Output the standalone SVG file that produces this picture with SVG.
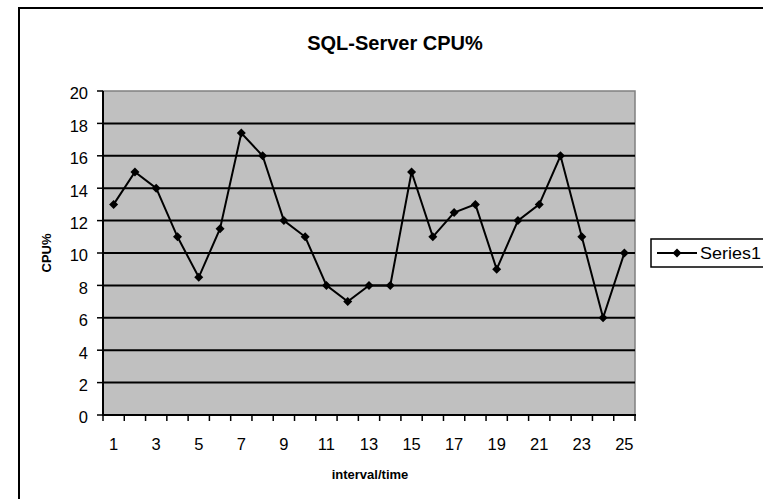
<svg xmlns="http://www.w3.org/2000/svg" width="763" height="499" viewBox="0 0 763 499">
<style>
text{font-family:"Liberation Sans",Arial,sans-serif;fill:#000}
.t{font-size:16.5px}
.a{font-size:13px;font-weight:bold}
.grid{stroke:#000;stroke-width:2}
.tick{stroke:#000;stroke-width:1.5}
</style>
<defs>
<path id="dm" d="M0,-4.5 L4.5,0 L0,4.5 L-4.5,0 Z" fill="#000"/>
</defs>
<rect width="763" height="499" fill="#fff"/>
<rect x="19" y="8" width="760" height="510" fill="none" stroke="#000" stroke-width="2"/>
<text x="395" y="50" text-anchor="middle" font-size="20" font-weight="bold">SQL-Server CPU%</text>
<g id="plot">
<rect x="103" y="91" width="532" height="324" fill="#c0c0c0" stroke="#808080" stroke-width="1.5"/>
<g class="grid">
<line x1="103" y1="382.6" x2="635" y2="382.6"/>
<line x1="103" y1="350.2" x2="635" y2="350.2"/>
<line x1="103" y1="317.8" x2="635" y2="317.8"/>
<line x1="103" y1="285.4" x2="635" y2="285.4"/>
<line x1="103" y1="253" x2="635" y2="253"/>
<line x1="103" y1="220.6" x2="635" y2="220.6"/>
<line x1="103" y1="188.2" x2="635" y2="188.2"/>
<line x1="103" y1="155.8" x2="635" y2="155.8"/>
<line x1="103" y1="123.4" x2="635" y2="123.4"/>
</g>
</g>
<g id="axes">
<line x1="103" y1="91" x2="103" y2="416" stroke="#000" stroke-width="2"/>
<line x1="102" y1="415" x2="636" y2="415" stroke="#000" stroke-width="2"/>
<g class="tick">
<line x1="97" y1="415" x2="103" y2="415"/><line x1="97" y1="382.6" x2="103" y2="382.6"/><line x1="97" y1="350.2" x2="103" y2="350.2"/><line x1="97" y1="317.8" x2="103" y2="317.8"/><line x1="97" y1="285.4" x2="103" y2="285.4"/><line x1="97" y1="253" x2="103" y2="253"/><line x1="97" y1="220.6" x2="103" y2="220.6"/><line x1="97" y1="188.2" x2="103" y2="188.2"/><line x1="97" y1="155.8" x2="103" y2="155.8"/><line x1="97" y1="123.4" x2="103" y2="123.4"/><line x1="97" y1="91" x2="103" y2="91"/>
<line x1="103" y1="415" x2="103" y2="421"/><line x1="124.28" y1="415" x2="124.28" y2="421"/><line x1="145.56" y1="415" x2="145.56" y2="421"/><line x1="166.84" y1="415" x2="166.84" y2="421"/><line x1="188.12" y1="415" x2="188.12" y2="421"/><line x1="209.4" y1="415" x2="209.4" y2="421"/><line x1="230.68" y1="415" x2="230.68" y2="421"/><line x1="251.96" y1="415" x2="251.96" y2="421"/><line x1="273.24" y1="415" x2="273.24" y2="421"/><line x1="294.52" y1="415" x2="294.52" y2="421"/><line x1="315.8" y1="415" x2="315.8" y2="421"/><line x1="337.08" y1="415" x2="337.08" y2="421"/><line x1="358.36" y1="415" x2="358.36" y2="421"/><line x1="379.64" y1="415" x2="379.64" y2="421"/><line x1="400.92" y1="415" x2="400.92" y2="421"/><line x1="422.2" y1="415" x2="422.2" y2="421"/><line x1="443.48" y1="415" x2="443.48" y2="421"/><line x1="464.76" y1="415" x2="464.76" y2="421"/><line x1="486.04" y1="415" x2="486.04" y2="421"/><line x1="507.32" y1="415" x2="507.32" y2="421"/><line x1="528.6" y1="415" x2="528.6" y2="421"/><line x1="549.88" y1="415" x2="549.88" y2="421"/><line x1="571.16" y1="415" x2="571.16" y2="421"/><line x1="592.44" y1="415" x2="592.44" y2="421"/><line x1="613.72" y1="415" x2="613.72" y2="421"/><line x1="635" y1="415" x2="635" y2="421"/>
</g>
<g class="t" text-anchor="end">
<text x="88" y="423">0</text><text x="88" y="391">2</text><text x="88" y="358.6">4</text><text x="88" y="326.2">6</text><text x="88" y="293.8">8</text><text x="88" y="261.4">10</text><text x="88" y="229">12</text><text x="88" y="196.6">14</text><text x="88" y="164.2">16</text><text x="88" y="131.8">18</text><text x="88" y="99.4">20</text>
</g>
<g class="t" text-anchor="middle">
<text x="113.64" y="450">1</text><text x="156.2" y="450">3</text><text x="198.76" y="450">5</text><text x="241.32" y="450">7</text><text x="283.88" y="450">9</text><text x="326.44" y="450">11</text><text x="369" y="450">13</text><text x="411.56" y="450">15</text><text x="454.12" y="450">17</text><text x="496.68" y="450">19</text><text x="539.24" y="450">21</text><text x="581.8" y="450">23</text><text x="624.36" y="450">25</text>
</g>
<text x="370" y="479" text-anchor="middle" class="a">interval/time</text>
<text transform="translate(51,253) rotate(-90)" text-anchor="middle" class="a">CPU%</text>
</g>
<g id="series1">
<polyline fill="none" stroke="#000" stroke-width="2" points="113.64,204.4 134.92,172 156.2,188.2 177.48,236.8 198.76,277.3 220.04,228.7 241.32,133.1 262.6,155.8 283.88,220.6 305.16,236.8 326.44,285.4 347.72,301.6 369,285.4 390.28,285.4 411.56,172 432.84,236.8 454.12,212.5 475.4,204.4 496.68,269.2 517.96,220.6 539.24,204.4 560.52,155.8 581.8,236.8 603.08,317.8 624.36,253"/>
<use href="#dm" x="113.64" y="204.4"/><use href="#dm" x="134.92" y="172"/><use href="#dm" x="156.2" y="188.2"/><use href="#dm" x="177.48" y="236.8"/><use href="#dm" x="198.76" y="277.3"/><use href="#dm" x="220.04" y="228.7"/><use href="#dm" x="241.32" y="133.1"/><use href="#dm" x="262.6" y="155.8"/><use href="#dm" x="283.88" y="220.6"/><use href="#dm" x="305.16" y="236.8"/><use href="#dm" x="326.44" y="285.4"/><use href="#dm" x="347.72" y="301.6"/><use href="#dm" x="369" y="285.4"/><use href="#dm" x="390.28" y="285.4"/><use href="#dm" x="411.56" y="172"/><use href="#dm" x="432.84" y="236.8"/><use href="#dm" x="454.12" y="212.5"/><use href="#dm" x="475.4" y="204.4"/><use href="#dm" x="496.68" y="269.2"/><use href="#dm" x="517.96" y="220.6"/><use href="#dm" x="539.24" y="204.4"/><use href="#dm" x="560.52" y="155.8"/><use href="#dm" x="581.8" y="236.8"/><use href="#dm" x="603.08" y="317.8"/><use href="#dm" x="624.36" y="253"/>
</g>
<g id="legend">
<rect x="651" y="239" width="130" height="28" fill="#fff" stroke="#000" stroke-width="1.5"/>
<line x1="657" y1="253" x2="697" y2="253" stroke="#000" stroke-width="2"/>
<use href="#dm" x="677" y="253"/>
<text x="700" y="259" class="t" textLength="61" lengthAdjust="spacingAndGlyphs">Series1</text>
</g>
</svg>
